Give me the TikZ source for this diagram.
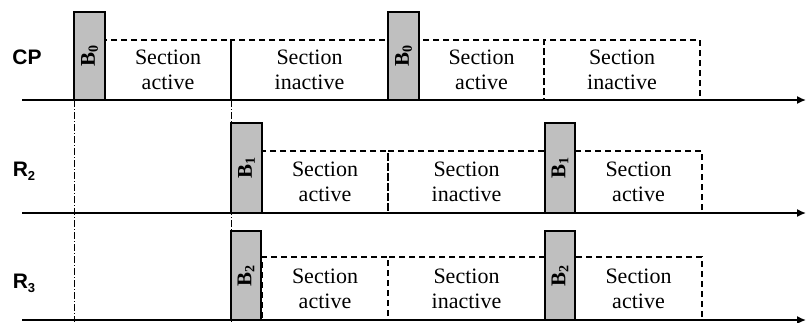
\documentclass[tikz,border=0pt]{standalone}
\usepackage{fontspec}
\setmainfont{Liberation Serif}
\newfontfamily\labfont{Liberation Sans}
\usetikzlibrary{arrows.meta}
\newcommand{\bsym}[1]{\textbf{B}\raisebox{-3pt}{\fontsize{14}{14}\selectfont\textbf{#1}}}
\newcommand{\rowlab}[2]{\labfont\bfseries #1\raisebox{-4pt}{\fontsize{13}{13}\selectfont #2}}
\begin{document}
\begin{tikzpicture}[x=1pt,y=-1pt,
  axis/.style={line width=1.5pt,-{Latex[length=9pt,width=8pt]}},
  vline/.style={line width=0.8pt,dash pattern=on 7pt off 2pt on 1pt off 2pt},
  bbox/.style={draw,line width=1.1pt,fill=gray!50,rotate=90,inner sep=0pt,
    font=\fontsize{21}{21}\selectfont},
  sect/.style={draw,dash pattern=on 6pt off 4pt,line width=1.2pt,inner sep=0pt,
    align=center,font=\fontsize{22}{25}\selectfont},
  rlab/.style={inner sep=0pt,font=\fontsize{21}{21}\selectfont\labfont\bfseries}]
\useasboundingbox (0,0) rectangle (806,322);
% dash-dot verticals
\coordinate (v1t) at (74,100); \coordinate (v1b) at (74,322);
\coordinate (v2t) at (231,100); \coordinate (v2b) at (231,322);
\draw[vline] (v1t) -- (v1b);
\draw[vline] (v2t) -- (v2b);
% row labels
\node[rlab] (cp) at (27,57) {CP};
\node[rlab] (r2) at (24,171) {\rowlab{R}{2}};
\node[rlab] (r3) at (24,283) {\rowlab{R}{3}};
% row 1
\node[sect,minimum width=126pt,minimum height=60pt] (s11) at (168,70) {Section\\active};
\node[sect,minimum width=157pt,minimum height=60pt] (s12) at (309.5,70) {Section\\inactive};
\node[sect,minimum width=125pt,minimum height=60pt] (s13) at (481.5,70) {Section\\active};
\node[sect,minimum width=156pt,minimum height=60pt] (s14) at (622,70) {Section\\inactive};
\node[bbox,minimum width=88pt,minimum height=31pt] (b01) at (89.5,56) {\bsym{0}};
\node[bbox,minimum width=88pt,minimum height=31pt] (b02) at (403.5,56) {\bsym{0}};
% row 2
\node[sect,minimum width=126pt,minimum height=62pt] (s21) at (325,182) {Section\\active};
\node[sect,minimum width=157pt,minimum height=62pt] (s22) at (466.5,182) {Section\\inactive};
\node[sect,minimum width=127pt,minimum height=62pt] (s23) at (638.5,182) {Section\\active};
\node[bbox,minimum width=90pt,minimum height=31pt] (b11) at (246.5,168) {\bsym{1}};
\node[bbox,minimum width=90pt,minimum height=30pt] (b12) at (560,168) {\bsym{1}};
% row 3
\node[sect,minimum width=126pt,minimum height=63pt] (s31) at (325,288.5) {Section\\active};
\node[sect,minimum width=157pt,minimum height=63pt] (s32) at (466.5,288.5) {Section\\inactive};
\node[sect,minimum width=127pt,minimum height=63pt] (s33) at (638.5,288.5) {Section\\active};
\node[bbox,minimum width=89pt,minimum height=30pt] (b21) at (246,275.5) {\bsym{2}};
\node[bbox,minimum width=89pt,minimum height=30pt] (b22) at (560,275.5) {\bsym{2}};
% axes
\coordinate (a1s) at (22,100); \coordinate (a1e) at (806,100);
\coordinate (a2s) at (22,213); \coordinate (a2e) at (806,213);
\coordinate (a3s) at (22,320); \coordinate (a3e) at (806,320);
\draw[axis] (a1s) -- (a1e);
\draw[axis] (a2s) -- (a2e);
\draw[axis] (a3s) -- (a3e);
\end{tikzpicture}
\end{document}
